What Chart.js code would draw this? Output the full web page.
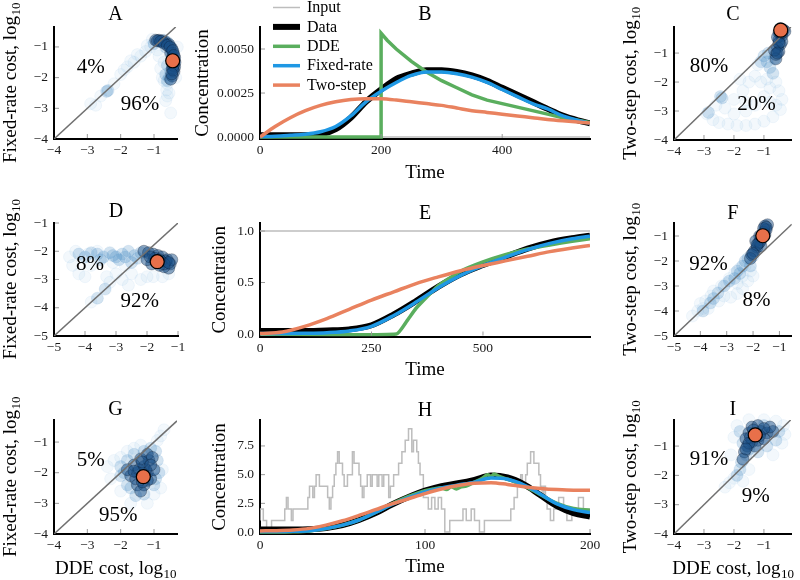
<!DOCTYPE html>
<html><head><meta charset="utf-8">
<script src="https://cdn.jsdelivr.net/npm/chart.js@4.4.1/dist/chart.umd.min.js"></script>
<style>
html,body{margin:0;padding:0;background:#fff;}
#wrap{position:relative;width:800px;height:580px;overflow:hidden;background:#fff;}
#wrap canvas{position:absolute;left:0;top:0;}
</style></head><body>
<div id="wrap">
<canvas id="cA" width="800" height="580"></canvas>
<canvas id="cB" width="800" height="580"></canvas>
<canvas id="cC" width="800" height="580"></canvas>
<canvas id="cD" width="800" height="580"></canvas>
<canvas id="cE" width="800" height="580"></canvas>
<canvas id="cF" width="800" height="580"></canvas>
<canvas id="cG" width="800" height="580"></canvas>
<canvas id="cH" width="800" height="580"></canvas>
<canvas id="cI" width="800" height="580"></canvas>
</div>
<script>
// ================= DATA =================
// ---- Panel B (pulse input) ----
const bT      = [0,25,50,75,100,125,150,175,200,225,250,275,300,325,350,375,400,425,450,475,500,525,545];
const bData   = [0.0001,0.0001,0.0001,0.0001,0.00015,0.00045,0.0011,0.002,0.0027,0.0033,0.0036,0.0038,0.0038,0.0037,0.0035,0.0032,0.0028,0.0024,0.002,0.0016,0.00122,0.00095,0.00078];
const bFixed  = [0.00003,0.00005,0.0001,0.00016,0.0003,0.0006,0.0012,0.002,0.0026,0.0031,0.0035,0.0037,0.0037,0.0036,0.0034,0.0031,0.0027,0.0023,0.0019,0.0016,0.0012,0.00095,0.00078];
const bTwo    = [0,0.0006,0.0011,0.0015,0.0018,0.002,0.00213,0.00218,0.00217,0.0021,0.002,0.0019,0.0018,0.00165,0.0015,0.0014,0.0013,0.0012,0.0011,0.001,0.00092,0.00085,0.0008];
const bDdeT   = [0,200,200,210,225,250,275,300,325,350,375,400,425,450,475,500,525,545];
const bDde    = [0,0,0.0059,0.0055,0.005,0.0043,0.0037,0.0032,0.0028,0.0024,0.0021,0.0019,0.0017,0.0015,0.0013,0.0011,0.00095,0.00082];
const bInT    = [0,545];
const bIn     = [0,0];
// ---- Panel E (step input) ----
const eT      = [0,50,100,150,200,250,300,350,400,450,500,550,600,650,700,740];
const eData   = [0.03,0.03,0.03,0.035,0.045,0.085,0.19,0.32,0.46,0.58,0.67,0.75,0.83,0.89,0.93,0.955];
const eFixed  = [0.005,0.005,0.007,0.013,0.03,0.075,0.18,0.31,0.45,0.57,0.665,0.745,0.82,0.88,0.925,0.95];
const eTwo    = [0.005,0.02,0.075,0.15,0.24,0.33,0.41,0.49,0.555,0.615,0.665,0.71,0.755,0.8,0.835,0.86];
const eDdeT   = [0,306,330,350,400,450,500,550,600,650,700,740];
const eDde    = [0,0,0.13,0.25,0.47,0.61,0.7,0.77,0.825,0.865,0.9,0.925];
const eInT    = [0,740];
const eIn     = [1,1];
// ---- Panel H (stochastic input) ----
const hT      = [0,10,20,30,40,50,60,70,80,90,100,110,120,130,140,150,160,170,180,190,200];
const hData   = [0.22,0.22,0.22,0.24,0.35,0.6,1.05,1.65,2.4,3.05,3.6,4.0,4.25,4.55,4.92,4.75,4.15,3.2,2.25,1.65,1.35];
const hFixed  = [0.05,0.05,0.07,0.12,0.3,0.6,1.05,1.7,2.4,3.0,3.5,3.85,4.1,4.35,4.7,4.6,4.1,3.3,2.45,1.95,1.7];
const hTwo    = [0.1,0.12,0.18,0.32,0.6,0.98,1.45,1.95,2.45,2.9,3.35,3.75,4.05,4.25,4.3,4.15,3.95,3.8,3.7,3.65,3.65];
const hDdeT   = [0,10,20,30,40,50,60,70,80,90,100,105,110,113,116,119,122,125,130,135,138,140,142,145,150,160,170,180,190,200];
const hDde    = [0,0,0.02,0.1,0.3,0.6,1.05,1.7,2.45,3.1,3.6,3.75,3.85,3.7,3.95,3.75,3.95,4.0,4.35,4.7,5.0,4.85,5.05,4.85,4.6,4.05,3.25,2.5,2.05,1.9];
const hInT    = [0,2,4,7,15,16,17,19,20,29,30,32,33,34,36,41,42,43,44,45,46,47,48,50,51,53,56,57,60,61,62,63,65,67,68,71,72,74,75,78,79,81,84,86,88,90,92,93,95,96,97,99,102,104,106,108,110,112,115,123,125,128,130,133,136,152,154,156,158,159,161,162,164,166,169,170,171,172,173,174,176,178,181,184,186,189,193,196,198,200];
const hIn     = [1,2,1,0,1,2,3,2,1,2,3,4,3,4,5,4,3,2,3,4,5,6,7,6,5,4,5,7,6,5,4,3,4,5,4,5,4,5,4,5,3,4,5,6,7,8,9,7,8,7,6,5,3,2,3,2,3,2,0,1,2,1,2,1,0,1,2,3,4,5,4,5,6,7,6,5,4,3,4,3,2,1,2,3,2,1,2,3,2,2];

// ---- Tick labels ----
const ticksB_x = [0,200,400];   const ticksB_y = [0,0.0025,0.005];
const ticksE_x = [0,250,500];   const ticksE_y = [0,0.5,1];
const ticksH_x = [0,100,200];   const ticksH_y = [0,2.5,5,7.5];
const ticks4 = [-4,-3,-2,-1];
const ticks5 = [-5,-4,-3,-2,-1];

// ---- Cost scatter clouds, [DDE cost, model cost] (log10) ----
const aFaint = [[-2.9,-2.85],[-2.75,-2.9],[-2.6,-2.6],[-2.2,-2.2],[-2.0,-1.9],[-1.8,-1.65],[-1.6,-1.5],[-1.4,-1.3],[-1.25,-1.15],[-1.1,-1.0],[-1.0,-0.85],[-1.2,-0.95],[-1.5,-1.25],[-1.9,-1.75],[-1.7,-1.45],[-0.6,-2.2],[-0.62,-2.4],[-0.6,-2.6],[-0.65,-2.75],[-0.55,-2.5],[-0.5,-3.15],[-0.7,-2.1],[-0.85,-1.3],[-0.8,-1.7],[-0.75,-2.0],[-0.9,-1.1],[-0.7,-1.5],[-1.05,-0.75],[-0.35,-2.0],[-0.3,-1.0]];
const aMid   = [[-2.42,-2.45],[-2.38,-2.42],[-0.7,-0.78],[-0.6,-0.85],[-0.5,-1.0],[-0.45,-1.2],[-0.45,-1.4],[-0.45,-1.6],[-0.5,-1.8],[-0.55,-2.0],[-0.6,-2.1],[-1.0,-0.9],[-0.85,-0.8],[-0.65,-1.0],[-0.6,-1.6],[-0.65,-1.9]];
const aCore  = [[-0.95,-0.78],[-0.85,-0.78],[-0.75,-0.8],[-0.65,-0.85],[-0.55,-0.92],[-0.47,-1.05],[-0.42,-1.2],[-0.38,-1.35],[-0.37,-1.5],[-0.38,-1.65],[-0.4,-1.8],[-0.45,-1.95],[-0.5,-2.05],[-0.45,-1.35],[-0.5,-1.2],[-0.45,-1.7],[-0.9,-0.8],[-0.8,-0.82],[-0.7,-0.88],[-0.6,-0.95],[-0.52,-1.0],[-0.44,-1.12],[-0.4,-1.28],[-0.4,-1.45],[-0.41,-1.6],[-0.43,-1.75],[-0.47,-1.88]];
const aBest  = [-0.44,-1.45];

const cFaint = [[-2.9,-3.1],[-2.7,-3.3],[-2.5,-3.4],[-2.2,-3.45],[-1.9,-3.5],[-1.6,-3.5],[-1.3,-3.45],[-1.0,-3.35],[-0.7,-3.2],[-0.45,-2.95],[-0.4,-2.6],[-0.5,-2.3],[-0.6,-2.0],[-0.8,-2.2],[-1.0,-2.5],[-1.3,-2.8],[-1.6,-3.0],[-2.0,-3.1],[-2.3,-2.9],[-2.0,-2.6],[-1.7,-2.3],[-1.5,-2.0],[-1.3,-1.8],[-1.1,-2.0],[-0.9,-1.9],[-2.6,-2.8],[-1.8,-1.9],[-1.2,-1.4],[-1.6,-2.7],[-0.8,-2.7],[-0.6,-2.8]];
const cMid   = [[-2.45,-2.5],[-2.4,-2.55],[-2.85,-3.05],[-1.0,-1.1],[-0.9,-1.3],[-0.8,-1.5],[-0.7,-1.7],[-1.1,-1.3],[-0.85,-1.0],[-0.65,-1.2]];
const cCore  = [[-0.45,-0.15],[-0.35,-0.2],[-0.5,-0.3],[-0.4,-0.4],[-0.5,-0.55],[-0.45,-0.7],[-0.55,-0.8],[-0.5,-0.95],[-0.6,-1.05],[-0.6,-1.2],[-0.55,-0.45],[-0.3,-0.25],[-0.65,-0.9],[-0.4,-0.6],[-0.45,-0.3],[-0.5,-0.65],[-0.55,-1.0],[-0.4,-0.3]];
const cBest  = [-0.44,-0.21];

const dFaint = [[-4.5,-2.2],[-4.4,-2.5],[-4.2,-2.8],[-4.0,-2.9],[-4.3,-2.0],[-3.9,-2.1],[-3.6,-2.0],[-3.8,-2.5],[-3.3,-2.9],[-3.0,-2.8],[-2.8,-3.0],[-2.6,-3.2],[-2.5,-2.8],[-2.2,-3.0],[-2.0,-2.9],[-1.8,-2.9],[-3.1,-2.4],[-2.7,-2.5],[-3.8,-3.8],[-3.2,-3.1],[-1.5,-2.9],[-1.3,-2.8]];
const dMid   = [[-3.6,-2.1],[-3.4,-2.2],[-3.2,-2.05],[-3.0,-2.2],[-2.8,-2.1],[-2.6,-2.0],[-2.4,-2.15],[-2.2,-2.05],[-3.35,-3.34],[-2.9,-2.3],[-2.5,-2.4],[-3.6,-3.66],[-4.2,-2.1],[-4.0,-2.2],[-3.8,-2.05],[-3.5,-2.3],[-3.1,-2.15],[-2.7,-2.2],[-2.3,-2.25]];
const dCore  = [[-2.1,-2.0],[-1.95,-2.05],[-1.8,-2.1],[-1.65,-2.15],[-1.5,-2.2],[-1.35,-2.3],[-1.25,-2.45],[-1.3,-2.6],[-1.45,-2.55],[-1.6,-2.5],[-1.85,-2.45],[-2.0,-2.3],[-1.7,-2.35],[-1.4,-2.35],[-1.55,-2.35],[-1.2,-2.3],[-1.75,-2.25],[-1.45,-2.45],[-1.9,-2.2],[-1.3,-2.4],[-1.6,-2.3]];
const dBest  = [-1.67,-2.37];

const fFaint = [[-4.3,-4.2],[-4.1,-4.0],[-3.9,-3.9],[-3.8,-3.6],[-3.6,-3.4],[-3.5,-3.2],[-3.2,-3.0],[-3.0,-2.9],[-2.9,-2.7],[-2.7,-2.5],[-2.5,-2.3],[-2.4,-2.6],[-2.6,-2.9],[-2.85,-3.45],[-2.6,-3.3],[-2.4,-3.1],[-2.2,-2.8],[-3.3,-3.6],[-3.1,-3.4],[-4.0,-3.7],[-3.7,-3.9],[-2.3,-2.2],[-2.0,-2.6],[-2.1,-2.4]];
const fMid   = [[-3.33,-3.28],[-3.62,-3.68],[-2.3,-2.0],[-2.4,-2.2],[-2.5,-2.5],[-2.2,-1.9],[-2.1,-2.2],[-2.7,-2.7],[-2.0,-1.8],[-2.6,-2.4],[-2.9,-2.8],[-3.1,-3.0],[-3.5,-3.5],[-3.9,-4.0]];
const fCore  = [[-1.45,-0.55],[-1.55,-0.6],[-1.5,-0.75],[-1.6,-0.85],[-1.65,-1.0],[-1.7,-1.15],[-1.8,-1.3],[-1.85,-1.45],[-1.95,-1.6],[-2.05,-1.75],[-2.1,-1.9],[-1.75,-1.0],[-1.55,-0.95],[-1.9,-1.2],[-1.7,-1.4],[-1.6,-0.7],[-1.75,-1.25],[-1.85,-1.35],[-1.5,-0.65],[-2.0,-1.7]];
const fBest  = [-1.63,-0.99];

const gFaint = [[-0.7,-0.6],[-0.8,-0.8],[-0.9,-0.95],[-2.4,-1.8],[-2.2,-1.6],[-2.0,-1.5],[-1.8,-1.3],[-1.0,-2.7],[-1.2,-3.0],[-0.8,-2.5],[-1.6,-1.2],[-1.4,-1.1],[-2.3,-2.2],[-2.0,-2.6],[-0.75,-1.9],[-1.7,-3.0]];
const gMid   = [[-2.0,-1.8],[-1.8,-1.6],[-1.6,-1.4],[-1.3,-1.3],[-1.1,-1.2],[-0.95,-1.3],[-0.9,-1.6],[-0.85,-2.0],[-1.0,-2.4],[-1.3,-2.7],[-1.55,-2.75],[-1.8,-2.4],[-2.0,-2.1],[-1.9,-2.0],[-1.7,-2.5],[-0.95,-2.2]];
const gCore  = [[-1.35,-2.1],[-1.2,-2.0],[-1.5,-2.0],[-1.3,-1.8],[-1.15,-1.6],[-1.4,-1.55],[-1.6,-1.75],[-1.7,-2.1],[-1.5,-2.4],[-1.3,-2.4],[-1.1,-2.2],[-1.0,-1.9],[-1.2,-1.4],[-1.4,-2.6],[-1.8,-1.9],[-1.05,-1.5],[-1.25,-1.9],[-1.45,-1.9],[-1.35,-1.65],[-1.55,-2.2],[-1.2,-2.25],[-1.35,-2.3],[-1.1,-1.75],[-1.6,-1.95]];
const gBest  = [-1.32,-2.13];

const iFaint = [[-2.3,-2.4],[-2.15,-2.25],[-2.0,-2.1],[-1.7,-2.2],[-0.35,-0.3],[-0.3,-0.6],[-0.4,-0.9],[-2.0,-0.7],[-1.9,-0.3],[-1.5,-0.1],[-1.0,-0.1],[-0.6,-0.15],[-1.5,-1.8],[-0.7,-1.3],[-2.1,-1.3]];
const iMid   = [[-1.9,-2.0],[-1.8,-1.8],[-1.75,-1.55],[-1.6,-1.3],[-1.5,-1.1],[-0.9,-1.0],[-0.6,-0.8],[-0.5,-0.5],[-1.8,-0.5],[-1.7,-0.9],[-1.2,-1.2],[-1.0,-0.3]];
const iCore  = [[-1.3,-0.6],[-1.5,-0.55],[-1.1,-0.5],[-0.9,-0.55],[-0.7,-0.5],[-1.6,-0.75],[-1.4,-0.85],[-1.2,-0.8],[-1.0,-0.75],[-1.55,-1.0],[-1.65,-1.2],[-1.7,-1.45],[-1.4,-0.35],[-1.2,-0.3],[-0.8,-0.35],[-1.3,-1.0],[-1.35,-0.45],[-1.0,-0.4],[-1.45,-0.7],[-1.15,-0.65],[-1.5,-0.9],[-1.6,-1.1]];
const iBest  = [-1.29,-0.62];

// ================= STYLE / HELPERS =================
const FONT = '"Liberation Serif","DejaVu Serif",serif';
const MINUS = '\u2212';
const C_DATA = '#000000', C_DDE = '#5aae5e', C_FIX = '#1f98e4', C_TWO = '#e9825f', C_IN = '#bdbdbd';
const C_BEST = '#e8704a';
const FAINT = {bg:'rgba(80,155,215,0.07)', bd:'rgba(80,155,215,0.07)'};
const MID   = {bg:'rgba(40,120,185,0.2)',  bd:'rgba(40,120,185,0.1)'};
const CORE  = {bg:'rgba(25,80,135,0.5)',   bd:'rgba(0,10,30,0.28)'};

const xy = (xs, ys) => xs.map((x, i) => ({x, y: ys[i]}));
const pts = arr => arr.map(p => ({x: p[0], y: p[1]}));
const fmtInt = v => (v < 0 ? MINUS : '') + Math.abs(v);

function drawSubText(ctx, main, sub, bx, by, rot) {
  ctx.save();
  ctx.translate(bx, by); ctx.rotate(rot);
  ctx.textBaseline = 'alphabetic'; ctx.textAlign = 'left'; ctx.fillStyle = '#000';
  ctx.font = '19px ' + FONT; const w1 = ctx.measureText(main).width;
  let w2 = 0;
  if (sub) { ctx.font = '13px ' + FONT; w2 = ctx.measureText(sub).width; }
  const x0 = -(w1 + w2) / 2;
  ctx.font = '19px ' + FONT; ctx.fillText(main, x0, 0);
  if (sub) { ctx.font = '13px ' + FONT; ctx.fillText(sub, x0 + w1 + 0.5, 4); }
  ctx.restore();
}

const deco = {
  id: 'deco',
  afterDatasetsDraw(chart, args, o) {
    const {ctx, chartArea: ca, scales: {x, y}} = chart;
    ctx.save();
    ctx.strokeStyle = '#9a9a9a'; ctx.lineWidth = 1;
    x.ticks.forEach(t => {
      const px = x.getPixelForValue(t.value);
      if (px - ca.left < 3) return;
      ctx.beginPath(); ctx.moveTo(px, ca.bottom - 1); ctx.lineTo(px, ca.bottom - 5); ctx.stroke();
    });
    y.ticks.forEach(t => {
      const py = y.getPixelForValue(t.value);
      if (ca.bottom - py < 4) return;
      ctx.beginPath(); ctx.moveTo(ca.left + 1, py); ctx.lineTo(ca.left + 5, py); ctx.stroke();
    });
    ctx.fillStyle = '#000'; ctx.textAlign = 'center'; ctx.textBaseline = 'middle';
    ctx.font = '20px ' + FONT;
    ctx.fillText(o.letter, (ca.left + ca.right) / 2, o.letterY);
    ctx.font = '21px ' + FONT;
    (o.labels || []).forEach(l => ctx.fillText(l.text, x.getPixelForValue(l.x), y.getPixelForValue(l.y)));
    drawSubText(ctx, o.yTitle[0], o.yTitle[1], o.yTitleBase, (ca.top + ca.bottom) / 2, -Math.PI / 2);
    if (o.xTitle) drawSubText(ctx, o.xTitle[0], o.xTitle[1], (ca.left + ca.right) / 2, o.xTitleBase, 0);
    if (o.legend) {
      const L = o.legend;
      chart.data.datasets.filter(d => d.label).sort((a, b) => a.legendIndex - b.legendIndex).forEach((d, i) => {
        const yy = L.y0 + i * L.dy;
        ctx.strokeStyle = d.borderColor; ctx.lineWidth = d.borderWidth;
        ctx.beginPath(); ctx.moveTo(L.x0, yy); ctx.lineTo(L.x1, yy); ctx.stroke();
        ctx.fillStyle = '#000'; ctx.textAlign = 'left'; ctx.textBaseline = 'middle';
        ctx.font = '16px ' + FONT;
        ctx.fillText(d.label, L.tx, yy + 0.5);
      });
    }
    ctx.restore();
  }
};

function build(id, type, datasets, c) {
  const xBoxBottom = c.area.b + 30;
  return new Chart(document.getElementById(id), {
    type,
    data: {datasets},
    options: {
      responsive: false, animation: false, events: [],
      layout: {padding: {left: c.yBoxL, top: c.area.t, right: 800 - c.area.r, bottom: 580 - xBoxBottom}},
      scales: {
        x: {
          type: 'linear', min: c.xr[0], max: c.xr[1],
          afterFit: s => { s.height = xBoxBottom - c.area.b; },
          afterBuildTicks: s => { s.ticks = c.xTicks.map(v => ({value: v})); },
          grid: {display: true, drawOnChartArea: false, drawTicks: false},
          border: {display: true, color: '#000', width: 2},
          ticks: {padding: 3.7, color: '#1a1a1a', font: {family: FONT, size: 13.5}, callback: c.xFmt, maxRotation: 0, autoSkip: false}
        },
        y: {
          type: 'linear', min: c.yr[0], max: c.yr[1],
          afterFit: s => { s.width = c.area.l - c.yBoxL; },
          afterBuildTicks: s => { s.ticks = c.yTicks.map(v => ({value: v})); },
          grid: {display: true, drawOnChartArea: false, drawTicks: false},
          border: {display: true, color: '#000', width: 2},
          ticks: {padding: 6, color: '#1a1a1a', font: {family: FONT, size: 13.5}, callback: c.yFmt, autoSkip: false}
        }
      },
      plugins: {
        legend: {display: false}, tooltip: {enabled: false}, title: {display: false},
        deco: {letter: c.letter, letterY: c.letterY, labels: c.labels, yTitle: c.yTitle, yTitleBase: c.yTitleBase,
               xTitle: c.xTitle, xTitleBase: c.xTitleBase, legend: c.legend}
      }
    },
    plugins: [deco]
  });
}

function cloud(arr, st, order) {
  return {data: pts(arr), showLine: false, pointRadius: 6, pointBackgroundColor: st.bg,
          pointBorderColor: st.bd, pointBorderWidth: 1, clip: false, order};
}

function sidePanel(id, c) {
  const hi = Math.min(c.xr[1], c.yr[1]);
  const ds = [
    cloud(c.faint, FAINT, 5), cloud(c.mid, MID, 4), cloud(c.core, CORE, 3),
    {data: [{x: c.xr[0], y: c.xr[0]}, {x: hi, y: hi}], showLine: true, borderColor: '#707070',
     borderWidth: 1.5, pointRadius: 0, order: 2},
    {data: pts([c.best]), showLine: false, pointRadius: 7, pointBackgroundColor: C_BEST,
     pointBorderColor: '#000', pointBorderWidth: 1.2, clip: false, order: 1}
  ];
  c.xFmt = fmtInt; c.yFmt = fmtInt;
  return build(id, 'scatter', ds, c);
}

function line(label, data, color, width, order, legendIndex, extra) {
  return Object.assign({label, data, borderColor: color, borderWidth: width, pointRadius: 0,
    cubicInterpolationMode: 'monotone', fill: false, order, legendIndex}, extra || {});
}

function midPanel(id, c, s) {
  const ds = [
    line('Input', s.input, C_IN, 1.5, 5, 0, s.inputExtra),
    line('Data', s.data, C_DATA, 6, 4, 1),
    line('DDE', s.dde, C_DDE, 3.5, 3, 2, s.ddeExtra),
    line('Fixed-rate', s.fixed, C_FIX, 3.5, 2, 3),
    line('Two-step', s.two, C_TWO, 3.5, 1, 4)
  ];
  return build(id, 'line', ds, c);
}

const FR = ['Fixed-rate cost, log', '10'];
const TS = ['Two-step cost, log', '10'];
const DC = ['DDE cost, log', '10'];
const CONC = ['Concentration', ''];
const TIME = ['Time', ''];

// ================= PANELS =================
sidePanel('cA', {area: {l: 54, t: 27, r: 177, b: 139}, yBoxL: 0, xr: [-4, -0.31], yr: [-4, -0.35],
  xTicks: ticks4, yTicks: ticks4, letter: 'A', letterY: 15, yTitle: FR, yTitleBase: 16,
  labels: [{text: '4%', x: -2.9, y: -1.67}, {text: '96%', x: -1.42, y: -2.87}],
  faint: aFaint, mid: aMid, core: aCore, best: aBest});
sidePanel('cC', {area: {l: 674, t: 27, r: 797, b: 140}, yBoxL: 620, xr: [-4, -0.07], yr: [-4, -0.1],
  xTicks: ticks4, yTicks: ticks4, letter: 'C', letterY: 14.5, yTitle: TS, yTitleBase: 636,
  labels: [{text: '80%', x: -2.83, y: -1.47}, {text: '20%', x: -1.25, y: -2.76}],
  faint: cFaint, mid: cMid, core: cCore, best: cBest});
sidePanel('cD', {area: {l: 54, t: 223, r: 178, b: 336}, yBoxL: 0, xr: [-5, -1], yr: [-5, -1],
  xTicks: ticks5, yTicks: ticks5, letter: 'D', letterY: 211.5, yTitle: FR, yTitleBase: 16,
  labels: [{text: '8%', x: -3.84, y: -2.46}, {text: '92%', x: -2.23, y: -3.79}],
  faint: dFaint, mid: dMid, core: dCore, best: dBest});
sidePanel('cF', {area: {l: 674, t: 223, r: 797, b: 336}, yBoxL: 620, xr: [-5, -0.53], yr: [-5, -0.48],
  xTicks: ticks5, yTicks: ticks5, letter: 'F', letterY: 213.5, yTitle: TS, yTitleBase: 636,
  labels: [{text: '92%', x: -3.69, y: -2.12}, {text: '8%', x: -1.87, y: -3.56}],
  faint: fFaint, mid: fMid, core: fCore, best: fBest});
sidePanel('cG', {area: {l: 54, t: 420, r: 177, b: 534}, yBoxL: 0, xr: [-4, -0.31], yr: [-4, -0.28],
  xTicks: ticks4, yTicks: ticks4, letter: 'G', letterY: 410, yTitle: FR, yTitleBase: 16,
  xTitle: DC, xTitleBase: 574,
  labels: [{text: '5%', x: -2.9, y: -1.59}, {text: '95%', x: -2.07, y: -3.38}],
  faint: gFaint, mid: gMid, core: gCore, best: gBest});
sidePanel('cI', {area: {l: 674, t: 420, r: 797, b: 534}, yBoxL: 620, xr: [-4, -0.07], yr: [-4, -0.11],
  xTicks: ticks4, yTicks: ticks4, letter: 'I', letterY: 409.5, yTitle: TS, yTitleBase: 636,
  xTitle: DC, xTitleBase: 574,
  labels: [{text: '91%', x: -2.83, y: -1.45}, {text: '9%', x: -1.27, y: -2.73}],
  faint: iFaint, mid: iMid, core: iCore, best: iBest});

midPanel('cB', {area: {l: 260, t: 27, r: 590, b: 139}, yBoxL: 191, xr: [0, 545], yr: [-0.00011, 0.00625],
  xTicks: ticksB_x, yTicks: ticksB_y, xFmt: v => String(v), yFmt: v => v.toFixed(4),
  letter: 'B', letterY: 15, yTitle: CONC, yTitleBase: 207.5, xTitle: TIME, xTitleBase: 178,
  legend: {x0: 273, x1: 300, tx: 307, y0: 7.5, dy: 19.4}},
  {input: xy(bInT, bIn), data: xy(bT, bData), dde: xy(bDdeT, bDde), fixed: xy(bT, bFixed), two: xy(bT, bTwo),
   ddeExtra: {cubicInterpolationMode: 'default', tension: 0}});
midPanel('cE', {area: {l: 260, t: 223, r: 590, b: 336.5}, yBoxL: 209, xr: [0, 740], yr: [-0.024, 1.078],
  xTicks: ticksE_x, yTicks: ticksE_y, xFmt: v => String(v), yFmt: v => v.toFixed(1),
  letter: 'E', letterY: 214, yTitle: CONC, yTitleBase: 225, xTitle: TIME, xTitleBase: 375},
  {input: xy(eInT, eIn), data: xy(eT, eData), dde: xy(eDdeT, eDde), fixed: xy(eT, eFixed), two: xy(eT, eTwo),
   ddeExtra: {cubicInterpolationMode: 'default', tension: 0.15}});
midPanel('cH', {area: {l: 260, t: 420, r: 590, b: 534}, yBoxL: 209, xr: [0, 200], yr: [-0.17, 9.76],
  xTicks: ticksH_x, yTicks: ticksH_y, xFmt: v => String(v), yFmt: v => v.toFixed(1),
  letter: 'H', letterY: 411, yTitle: CONC, yTitleBase: 225, xTitle: TIME, xTitleBase: 571.5},
  {input: xy(hInT, hIn), data: xy(hT, hData), dde: xy(hDdeT, hDde), fixed: xy(hT, hFixed), two: xy(hT, hTwo),
   inputExtra: {stepped: 'after', cubicInterpolationMode: 'default'}});
</script>
</body></html>
